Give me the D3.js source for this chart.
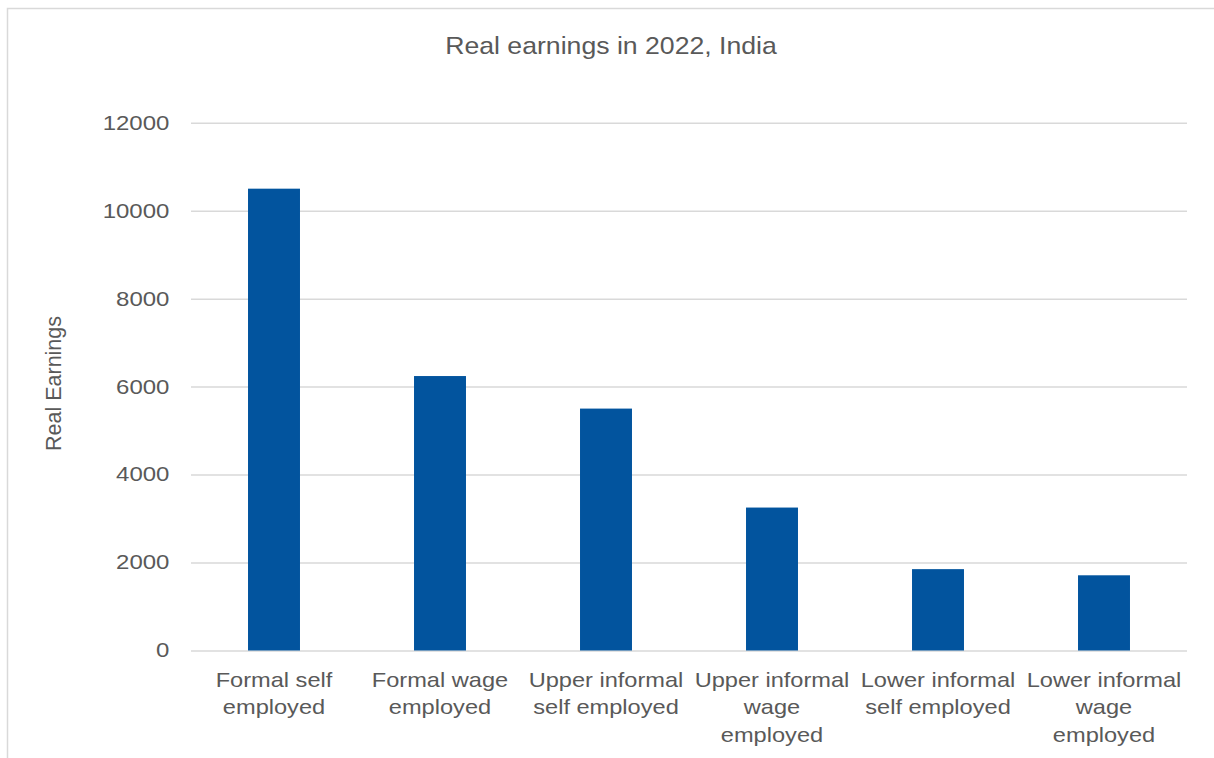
<!DOCTYPE html>
<html>
<head>
<meta charset="utf-8">
<script src="https://cdn.jsdelivr.net/npm/d3@7"></script>
<style>
  html, body { margin: 0; padding: 0; background: #fff; }
  svg text { font-family: "Liberation Sans", Arial, sans-serif; fill: #595959; }
</style>
</head>
<body>
<svg id="chart" width="1214" height="758"></svg>
<script>
// Real earnings by employment type, India 2022
const categories = [
  "Formal self employed",
  "Formal wage employed",
  "Upper informal self employed",
  "Upper informal wage employed",
  "Lower informal self employed",
  "Lower informal wage employed"
];
const labelLines = [
  ["Formal self", "employed"],
  ["Formal wage", "employed"],
  ["Upper informal", "self employed"],
  ["Upper informal", "wage", "employed"],
  ["Lower informal", "self employed"],
  ["Lower informal", "wage", "employed"]
];
const earnings = [10500, 6240, 5500, 3250, 1850, 1710];
const yTicks = [0, 2000, 4000, 6000, 8000, 10000, 12000];

const svg = d3.select("#chart");
const margin = { left: 191, right: 1187, top: 122.7, bottom: 650.5 };

// outer chart frame
svg.append("rect")
  .attr("x", 7.5).attr("y", 8.5)
  .attr("width", 1230).attr("height", 770)
  .attr("fill", "none").attr("stroke", "#d9d9d9").attr("stroke-width", 1.5);

const x = d3.scaleBand()
  .domain(categories)
  .range([margin.left, margin.right])
  .paddingInner(0.687)
  .paddingOuter(0.3435);

const y = d3.scaleLinear()
  .domain([0, 12000])
  .range([margin.bottom, margin.top]);

// horizontal gridlines + value labels
const yAxis = d3.axisLeft(y)
  .tickValues(yTicks)
  .tickSize(-(margin.right - margin.left))
  .tickFormat(d3.format("d"));

const gy = svg.append("g")
  .attr("transform", `translate(${margin.left},0)`)
  .call(yAxis);
gy.select(".domain").remove();
gy.selectAll(".tick line").attr("stroke", "#d9d9d9").attr("stroke-width", 1.5);
gy.selectAll(".tick text")
  .attr("font-size", 20)
  .attr("fill", "#595959")
  .attr("font-family", "Liberation Sans, Arial, sans-serif")
  .attr("x", -18)
  .attr("transform", "scale(1.2,1)");

// bars
svg.append("g")
  .selectAll("rect")
  .data(earnings)
  .join("rect")
  .attr("x", (d, i) => x(categories[i]))
  .attr("y", d => y(d))
  .attr("width", x.bandwidth())
  .attr("height", d => y(0) - y(d))
  .attr("fill", "#02549e");

// category labels under the axis
const xl = svg.append("g");
categories.forEach((c, i) => {
  const cx = x(c) + x.bandwidth() / 2;
  const t = xl.append("text")
    .attr("text-anchor", "middle")
    .attr("font-size", 20);
  labelLines[i].forEach((line, k) => {
    t.append("tspan")
      .attr("x", cx)
      .attr("y", 686.7 + k * 27.6)
      .text(line);
  });
  t.attr("transform", `translate(${cx},0) scale(1.18,1) translate(${-cx},0)`);
});

// title
svg.append("text")
  .attr("x", 611).attr("y", 54)
  .attr("text-anchor", "middle")
  .attr("font-size", 24)
  .attr("transform", "translate(611,0) scale(1.11,1) translate(-611,0)")
  .text("Real earnings in 2022, India");

// y axis title
svg.append("text")
  .attr("transform", "translate(61,383.5) rotate(-90)")
  .attr("text-anchor", "middle")
  .attr("font-size", 21.5)
  .text("Real Earnings");
</script>
</body>
</html>
